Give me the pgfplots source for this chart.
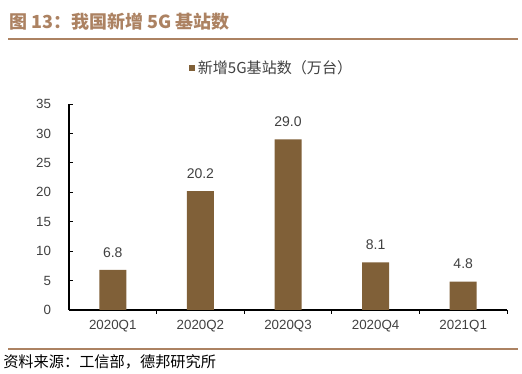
\documentclass[border=0pt]{standalone}
\usepackage{fontspec}
\usepackage{pgfplots}
\pgfplotsset{compat=1.18}
\setmainfont{Liberation Sans}
\newfontfamily\cjk{Noto Sans CJK SC}
\definecolor{titlebrown}{RGB}{172,130,98}
\definecolor{barbrown}{RGB}{128,96,56}
\definecolor{txtgray}{RGB}{64,64,64}
\begin{document}
\begin{tikzpicture}
\begin{scope}[x=0.75pt,y=0.75pt]
\useasboundingbox (0,0) rectangle (522,374);
\node[anchor=west, inner sep=0pt, text=titlebrown, font=\cjk\bfseries\fontsize{13.5}{15}\selectfont] at (9,352) {图 13：我国新增 5G 基站数};
\draw[titlebrown, line width=1.2pt] (8,335) -- (518,335);
\draw[titlebrown, line width=0.8pt] (8,25) -- (518,25);
\node[anchor=west, inner sep=0pt, font=\cjk\fontsize{11.4}{13}\selectfont, text=black] at (3,12) {资料来源：工信部，德邦研究所};
\end{scope}
\begin{axis}[
  at={(51.75pt,48pt)}, anchor=south west,
  scale only axis, width=328.5pt, height=154.5pt,
  xmin=-0.5, xmax=4.5, ymin=0, ymax=35,
  ytick={0,5,...,35},
  axis x line*=bottom, axis y line*=left,
  axis line style={black, line width=0.8pt, -},
  tick align=inside,
  major tick length=3pt,
  tick style={black, line width=0.6pt},
  xtick={0.5,1.5,2.5,3.5,4.5}, xticklabels={},
  extra x ticks={0,1,2,3,4},
  extra x tick labels={2020Q1,2020Q2,2020Q3,2020Q4,2021Q1},
  extra x tick style={major tick length=0pt},
  /pgf/number format/assume math mode=true,
  ticklabel style={font=\fontsize{10}{12}\selectfont, text=txtgray},
  yticklabel style={xshift=-10pt},
  xticklabel style={yshift=-4pt},
  ybar, bar width=20.25pt,
  nodes near coords,
  nodes near coords style={font=\fontsize{10.5}{12}\selectfont, text=txtgray, yshift=6pt,
    /pgf/number format/fixed, /pgf/number format/fixed zerofill, /pgf/number format/precision=1},
  legend style={draw=none, at={(0.463,1.175)}, anchor=center, font=\cjk\fontsize{11.3}{13}\selectfont, text=txtgray, inner sep=0pt},
  clip=false,
]
\addplot[fill=barbrown, draw=none,
  legend image code/.code={\fill[barbrown] (0pt,-2.4pt) rectangle (4.8pt,2.4pt);}]
  coordinates {(0,6.8) (1,20.2) (2,29.0) (3,8.1) (4,4.8)};
\addlegendentry{新增5G基站数（万台）}
\end{axis}
\end{tikzpicture}
\end{document}
